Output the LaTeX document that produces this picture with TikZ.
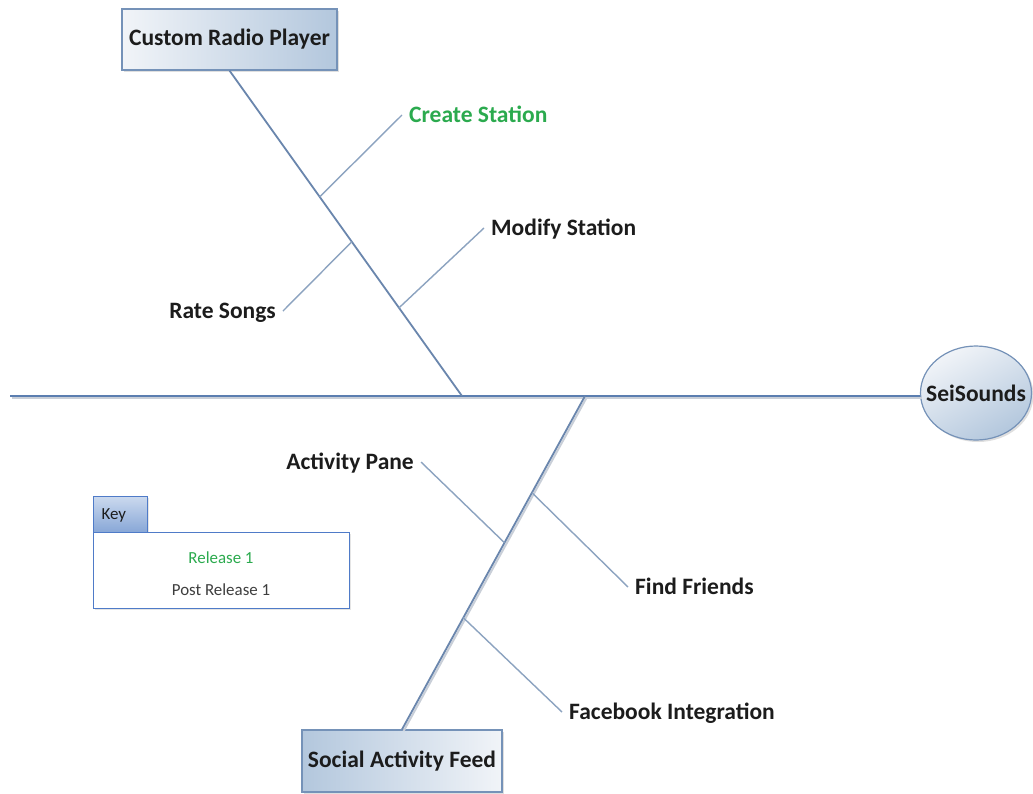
\documentclass[tikz,border=0pt]{standalone}
\usepackage{fontspec}
\setmainfont{Carlito}
\usetikzlibrary{shadows,shapes.geometric,calc}
\definecolor{spinec}{HTML}{5B7EB0}
\definecolor{bonec}{HTML}{6A86AD}
\definecolor{branchc}{HTML}{8CA3C0}
\definecolor{shadc}{HTML}{C9CFD8}
\definecolor{relgreen}{HTML}{2BAA4E}
\definecolor{txtc}{HTML}{1C1C1C}
\definecolor{boxlight}{HTML}{F1F4F8}
\definecolor{boxdark}{HTML}{B3C7DD}
\definecolor{boxline}{HTML}{7592B8}
\definecolor{keyline}{HTML}{4F7BC8}
\definecolor{keytop}{HTML}{CBD9EE}
\definecolor{keybot}{HTML}{85A5D6}
\tikzset{
  catbox/.style={draw=boxline, line width=1.2pt, text=txtc,
    font=\bfseries\fontsize{23.5}{28}\selectfont,
    drop shadow={shadow xshift=2pt, shadow yshift=-2pt, opacity=0.25}},
  lbl/.style={text=txtc, font=\bfseries\fontsize{23.5}{28}\selectfont,
    inner xsep=7pt, inner ysep=0pt, text height=15pt, text depth=0pt},
  branch/.style={draw=branchc, line width=1.4pt},
  bone/.style={draw=bonec, line width=1.8pt},
  shadowed/.style={preaction={draw=shadc, line width=2pt,
    transform canvas={shift={(1.6pt,-1.6pt)}}}},
  keytext/.style={text=txtc!85, font=\fontsize{16.9}{20}\selectfont, inner sep=1pt},
}
\begin{document}
\begin{tikzpicture}[x=1pt,y=-1pt]
\useasboundingbox[fill=white] (0,0) rectangle (1033,793);

% category boxes and head
\node[catbox, left color=boxlight, right color=boxdark,
  minimum width=215pt, minimum height=61pt] (crp) at (229.5,39.5) {Custom Radio Player};
\node[catbox, left color=boxdark, right color=boxlight,
  minimum width=200pt, minimum height=62pt] (saf) at (402,761) {Social Activity Feed};
\node[ellipse, draw=boxline, line width=1.2pt, text=txtc,
  font=\bfseries\fontsize{23.5}{28}\selectfont,
  shading=axis, top color=boxdark, bottom color=boxlight, shading angle=210,
  minimum width=111pt, minimum height=94pt, inner sep=0pt,
  drop shadow={shadow xshift=2pt, shadow yshift=-2pt, opacity=0.25}] (sei) at (976,393) {\makebox[0pt]{SeiSounds}};

% spine
\coordinate (tail) at (10,396);
\coordinate (j1) at (462,396);
\coordinate (j2) at (585,396);
\draw[draw=spinec, line width=2.4pt, shadowed] (tail) -- (sei.west |- tail);

% top bone
\draw[bone] (crp.south) -- (j1);
\coordinate (b1) at ($(crp.south)!0.388!(j1)$);
\coordinate (b2) at ($(crp.south)!0.526!(j1)$);
\coordinate (b3) at ($(crp.south)!0.729!(j1)$);

% bottom bone
\draw[bone, shadowed] (j2) -- (saf.north);
\coordinate (c1) at ($(j2)!0.29!(saf.north)$);
\coordinate (c2) at ($(j2)!0.44!(saf.north)$);
\coordinate (c3) at ($(j2)!0.665!(saf.north)$);

% labels
\node[lbl, text=relgreen, anchor=west] (cs) at (402,115) {Create Station};
\node[lbl, anchor=west] (ms) at (484,228) {Modify Station};
\node[lbl, anchor=east] (rs) at (283,311) {Rate Songs};
\node[lbl, anchor=east] (ap) at (421,462) {Activity Pane};
\node[lbl, anchor=west] (ff) at (628,587) {Find Friends};
\node[lbl, anchor=west] (fb) at (562,712) {Facebook Integration};

\draw[branch] (b1) -- (cs.west);
\draw[branch] (b2) -- (rs.east);
\draw[branch] (b3) -- (ms.west);
\draw[branch] (c2) -- (ap.east);
\draw[branch] (c1) -- (ff.west);
\draw[branch] (c3) -- (fb.west);

% key
\node[draw=keyline, line width=1.1pt, top color=keytop, bottom color=keybot,
  anchor=north west, minimum height=37pt, text width=38pt, inner xsep=8pt,
  align=left, text=txtc, font=\fontsize{16.9}{20}\selectfont,
  drop shadow={shadow xshift=1.5pt, shadow yshift=-1.5pt, opacity=0.2}] (keytab) at (93,496) {Key};
\node[draw=keyline, line width=1.1pt, fill=white, anchor=north west,
  minimum width=256pt, minimum height=76pt,
  drop shadow={shadow xshift=1.5pt, shadow yshift=-1.5pt, opacity=0.2}] (keybody) at (93,532) {};
\node[keytext, text=relgreen] (r1) at (221,558) {Release 1};
\node[keytext] (pr1) at (221,590) {Post Release 1};
\end{tikzpicture}
\end{document}
